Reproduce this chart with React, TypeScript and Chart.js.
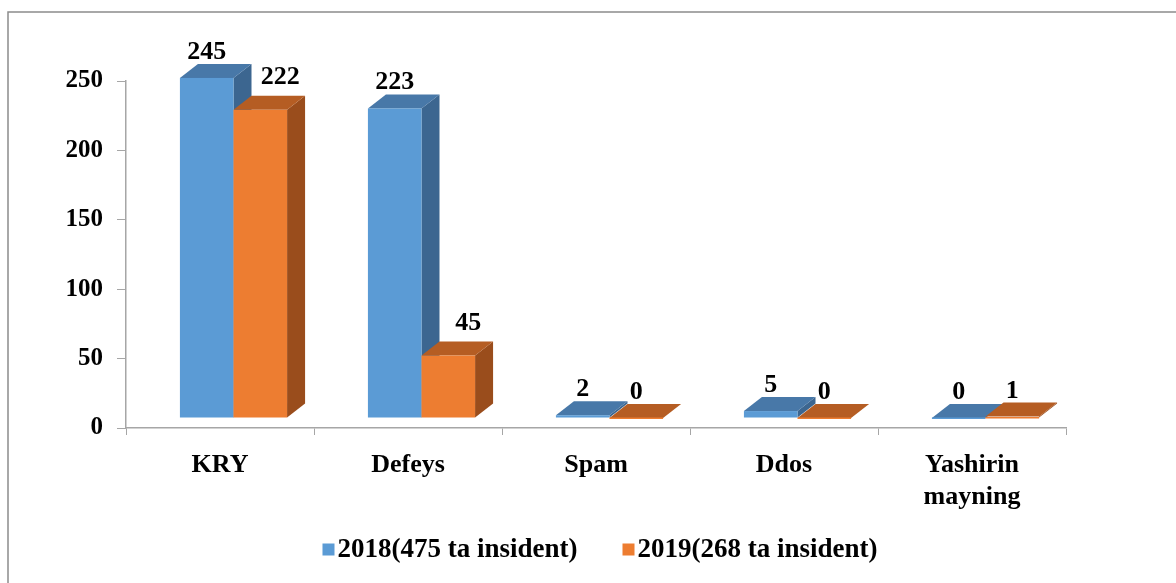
import { useEffect, useRef } from 'react';
import { Chart, registerables } from 'chart.js';

Chart.register(...registerables);

const categories: (string | string[])[] = ['KRY', 'Defeys', 'Spam', 'Ddos', ['Yashirin', 'mayning']];
const seriesNames = ['2018(475 ta insident)', '2019(268 ta insident)'];
const values2018 = [245, 223, 2, 5, 0];
const values2019 = [222, 45, 0, 0, 1];
const yMin = 0;
const yMax = 250;
const yStep = 50;

const FRONT = ['#5B9BD5', '#ED7D31'];
const TOP = ['#4878A8', '#B55D23'];
const SIDE = ['#3C6690', '#9A4D1C'];
const FONT = '"Liberation Serif", "Times New Roman", serif';
const AXIS = '#a6a6a6';

const OX = 13.5;
const OY = 10;
const DX = 18;
const DY = 14;

const box3d = {
  id: 'box3d',
  beforeDraw(chart: any) {
    const ctx = chart.ctx;
    ctx.save();
    ctx.fillStyle = '#ffffff';
    ctx.fillRect(0, 0, chart.width, chart.height);
    ctx.strokeStyle = '#8c8c8c';
    ctx.lineWidth = 1.5;
    ctx.strokeRect(8, 12, chart.width + 50, chart.height + 50);
    ctx.restore();
  },
  afterDatasetsDraw(chart: any) {
    const ctx = chart.ctx;
    const n = chart.data.labels.length;
    const metas = chart.data.datasets.map((_: any, i: number) => chart.getDatasetMeta(i));
    ctx.save();
    const labels: any[] = [];
    for (let j = 0; j < n; j++) {
      metas.forEach((meta: any, i: number) => {
        const el = meta.data[j];
        const p = el.getProps(['x', 'y', 'base', 'width'], true);
        const l = p.x - p.width / 2 + OX;
        const r = p.x + p.width / 2 + OX;
        const t = p.y - OY;
        const b = p.base - OY;
        ctx.fillStyle = SIDE[i];
        ctx.beginPath();
        ctx.moveTo(r, b);
        ctx.lineTo(r + DX, b - DY);
        ctx.lineTo(r + DX, t - DY);
        ctx.lineTo(r, t);
        ctx.closePath();
        ctx.fill();
        ctx.fillStyle = TOP[i];
        ctx.beginPath();
        ctx.moveTo(l, t);
        ctx.lineTo(l + DX, t - DY);
        ctx.lineTo(r + DX, t - DY);
        ctx.lineTo(r, t);
        ctx.closePath();
        ctx.fill();
        ctx.fillStyle = FRONT[i];
        const h = Math.max(b - t, 1.5);
        ctx.fillRect(l, b - h + (b - t < 1.5 ? 1 : 0), r - l, h);
        const v = chart.data.datasets[i].data[j];
        let lx = (l + r) / 2;
        let ly = t - DY - 5;
        if (i === 1) {
          const other = chart.data.datasets[0].data[j];
          if (other - v > 20) {
            lx += 20;
            ly = t - DY - 12;
          }
        }
        labels.push({ text: String(v), x: lx, y: ly });
      });
    }
    ctx.fillStyle = '#000000';
    ctx.font = `bold 26px ${FONT}`;
    ctx.textAlign = 'center';
    ctx.textBaseline = 'alphabetic';
    labels.forEach((lb) => ctx.fillText(lb.text, lb.x, lb.y));
    ctx.restore();
  },
  afterDraw(chart: any) {
    const ctx = chart.ctx;
    const area = chart.chartArea;
    ctx.save();
    ctx.font = `bold 27px ${FONT}`;
    ctx.textBaseline = 'middle';
    ctx.textAlign = 'left';
    const sq = 12;
    const gap = 3;
    const itemGap = 45;
    const ds = chart.data.datasets;
    const widths = ds.map((d: any) => ctx.measureText(d.label).width);
    let total = 0;
    widths.forEach((w: number) => (total += sq + gap + w));
    total += itemGap * (ds.length - 1);
    let x = (area.left + area.right) / 2 + 4 - total / 2;
    const cy = 549.5;
    ds.forEach((d: any, i: number) => {
      ctx.fillStyle = FRONT[i];
      ctx.fillRect(x, cy - sq / 2, sq, sq);
      ctx.fillStyle = '#000000';
      ctx.fillText(d.label, x + sq + gap, cy + 1);
      x += sq + gap + widths[i] + itemGap;
    });
    ctx.restore();
  },
};

export default function App() {
  const ref = useRef<HTMLCanvasElement | null>(null);
  useEffect(() => {
    if (!ref.current) return;
    const chart = new Chart(ref.current, {
      type: 'bar',
      data: {
        labels: categories as any,
        datasets: [
          {
            label: seriesNames[0],
            data: values2018,
            backgroundColor: 'rgba(0,0,0,0)',
            categoryPercentage: 0.57,
            barPercentage: 1,
          },
          {
            label: seriesNames[1],
            data: values2019,
            backgroundColor: 'rgba(0,0,0,0)',
            categoryPercentage: 0.57,
            barPercentage: 1,
          },
        ],
      },
      options: {
        animation: false,
        responsive: false,
        devicePixelRatio: 1,
        layout: { padding: { top: 81, right: 110, left: 0, bottom: 0 } },
        plugins: { legend: { display: false }, tooltip: { enabled: false } },
        scales: {
          x: {
            afterFit: (s: any) => {
              s.height = 155;
            },
            grid: { drawOnChartArea: false, tickLength: 7, color: AXIS, offset: true },
            border: { color: AXIS, width: 1.5 },
            ticks: {
              color: '#000000',
              font: { family: FONT, size: 26, weight: 'bold', lineHeight: 1.25 },
              padding: 14,
              maxRotation: 0,
            },
          },
          y: {
            min: yMin,
            max: yMax,
            afterFit: (s: any) => {
              s.width = 126;
            },
            grid: { drawOnChartArea: false, tickLength: 9, color: AXIS },
            border: { color: AXIS, width: 1.5 },
            ticks: {
              stepSize: yStep,
              color: '#000000',
              font: { family: FONT, size: 25, weight: 'bold' },
              padding: 14,
            },
          },
        },
      },
      plugins: [box3d],
    });
    return () => chart.destroy();
  }, []);
  return (
    <div style={{ position: 'fixed', left: 0, top: 0, width: 1176, height: 583, background: '#fff' }}>
      <canvas ref={ref} width={1176} height={583} style={{ width: 1176, height: 583, display: 'block' }} />
    </div>
  );
}
